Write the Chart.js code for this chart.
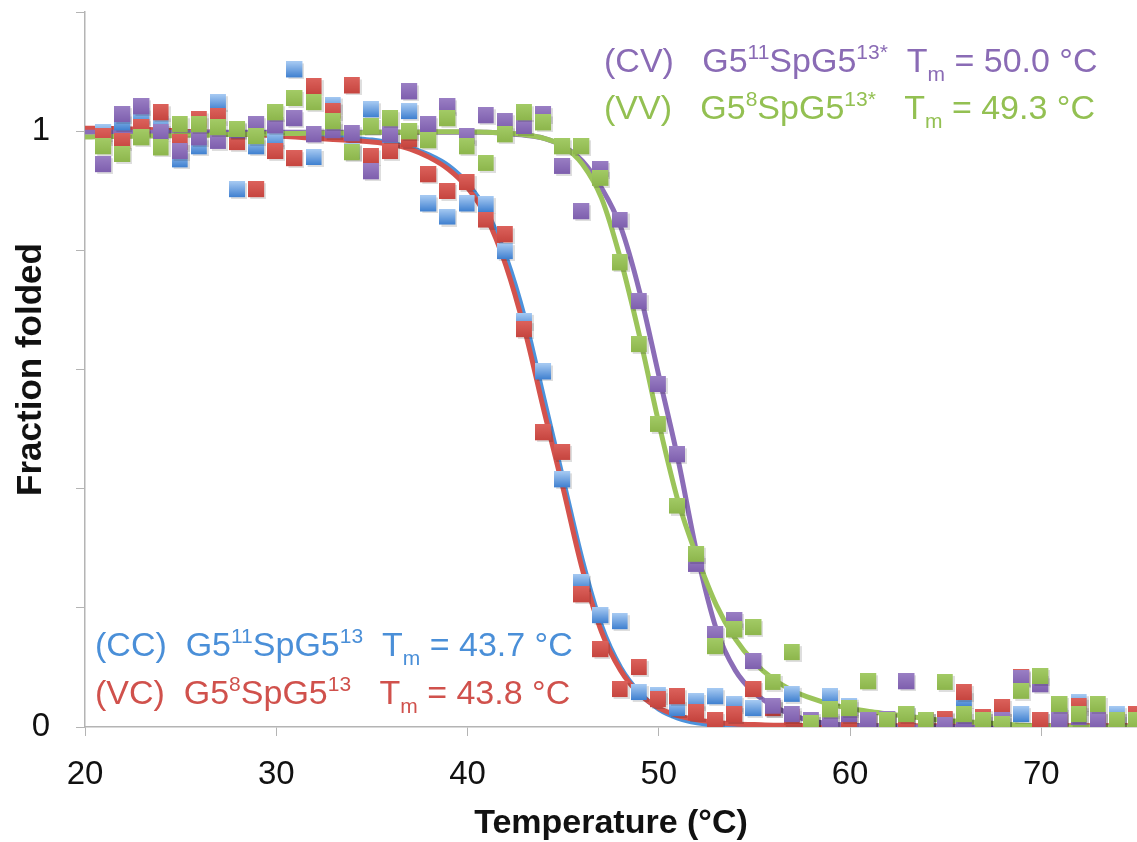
<!DOCTYPE html>
<html>
<head>
<meta charset="utf-8">
<script src="https://cdn.jsdelivr.net/npm/chart.js@4"></script>
<style>
  body { margin: 0; background: #fff; }
  #wrap { width: 1137px; height: 842px; }
</style>
</head>
<body>
<div id="wrap"><canvas id="meltChart" width="1137" height="842"></canvas></div>
<script>
// measured temperatures (°C)
const temps = [21, 22, 23, 24, 25, 26, 27, 28, 29, 30, 31, 32, 33, 34, 35, 36, 37, 38, 39, 40,
  41, 42, 43, 44, 45, 46, 47, 48, 49, 50, 51, 52, 53, 54, 55, 56, 57, 58, 59, 60,
  61, 62, 63, 64, 65, 66, 67, 68, 69, 70, 71, 72, 73, 74, 75];

// fraction folded, one value per temperature
const ccFolded = [0.997, 1.013, 1.023, 1.01, 0.951, 0.973, 1.047, 0.901, 0.973, 0.985,
  1.102, 0.955, 1.043, 0.965, 1.035, 0.985, 1.032, 0.877, 0.855, 0.877,
  0.876, 0.797, 0.68, 0.595, 0.414, 0.242, 0.186, 0.176, 0.057, 0.052,
  0.03, 0.042, 0.05, 0.037, 0.03, 0.03, 0.054, 0.0, 0.05, 0.034,
  0.01, 0.005, 0.02, 0.01, 0.01, 0.045, 0.01, 0.01, 0.02, 0.01,
  0.017, 0.04, 0.01, 0.02, 0.005];
const vcFolded = [0.99, 0.982, 1.005, 1.03, 0.98, 1.018, 1.024, 0.98, 0.901, 0.965,
  0.953, 1.074, 1.033, 1.075, 0.956, 0.965, 0.985, 0.926, 0.898, 0.913,
  0.85, 0.825, 0.666, 0.493, 0.46, 0.221, 0.129, 0.062, 0.099, 0.045,
  0.05, 0.023, 0.01, 0.02, 0.062, 0.03, 0.015, 0.005, 0.01, 0.008,
  0.01, 0.01, 0.003, 0.01, 0.012, 0.057, 0.015, 0.032, 0.082, 0.01,
  0.01, 0.034, 0.01, 0.01, 0.02];
const cvFolded = [0.943, 1.027, 1.04, 0.997, 0.965, 0.988, 0.982, 1.0, 1.01, 1.008,
  1.02, 0.993, 1.0, 0.995, 0.931, 0.993, 1.065, 1.01, 1.04, 0.99,
  1.025, 1.015, 1.007, 1.027, 0.94, 0.864, 0.935, 0.85, 0.713, 0.574,
  0.456, 0.272, 0.154, 0.178, 0.109, 0.034, 0.02, 0.01, 0.007, 0.02,
  0.01, 0.012, 0.075, 0.005, 0.002, 0.01, 0.005, 0.01, 0.08, 0.07,
  0.01, 0.015, 0.01, 0.005, 0.0];
const vvFolded = [0.973, 0.96, 0.988, 0.971, 1.01, 1.01, 1.005, 1.002, 0.99, 1.03,
  1.054, 1.047, 1.015, 0.963, 1.007, 1.02, 0.998, 0.983, 1.02, 0.973,
  0.945, 0.993, 1.03, 1.013, 0.973, 0.973, 0.92, 0.778, 0.641, 0.507,
  0.37, 0.289, 0.134, 0.162, 0.166, 0.074, 0.124, 0.005, 0.028, 0.03,
  0.075, 0.01, 0.02, 0.01, 0.074, 0.02, 0.01, 0.003, 0.059, 0.084,
  0.037, 0.02, 0.037, 0.01, 0.01];

const fitTemps = [20, 21, 22, 23, 24, 25, 26, 27, 28, 29, 30, 31, 32, 33, 34, 35, 36, 37, 38, 39,
  40, 41, 42, 43, 44, 45, 46, 47, 48, 49, 50, 51, 52, 53, 54, 55, 56, 57, 58, 59,
  60, 61, 62, 63, 64, 65, 66, 67, 68, 69, 70, 71, 72, 73, 74, 75];
const ccFit = [1.0, 1.0, 1.0, 1.0, 0.999, 0.999, 0.998, 0.998, 0.997, 0.996,
  0.995, 0.994, 0.993, 0.991, 0.988, 0.985, 0.98, 0.972, 0.96, 0.942,
  0.912, 0.865, 0.79, 0.685, 0.55, 0.415, 0.28, 0.17, 0.1, 0.057,
  0.03, 0.015, 0.007, 0.003, 0.001, 0.0, 0.0, 0.0, 0.0, 0.0,
  0.0, 0.0, 0.0, 0.0, 0.0, 0.0, 0.0, 0.0, 0.0, 0.0,
  0.0, 0.0, 0.0, 0.0, 0.0, 0.0];
const vcFit = [1.005, 1.005, 1.004, 1.003, 1.002, 1.0, 0.999, 0.998, 0.996, 0.994,
  0.992, 0.99, 0.988, 0.986, 0.984, 0.982, 0.978, 0.97, 0.956, 0.936,
  0.905, 0.855, 0.775, 0.665, 0.53, 0.4, 0.265, 0.16, 0.095, 0.055,
  0.032, 0.019, 0.012, 0.008, 0.005, 0.004, 0.003, 0.003, 0.002, 0.002,
  0.002, 0.002, 0.002, 0.002, 0.002, 0.002, 0.002, 0.002, 0.002, 0.002,
  0.002, 0.002, 0.002, 0.002, 0.002, 0.002];
const cvFit = [0.998, 0.998, 0.998, 0.998, 0.998, 0.998, 0.998, 0.998, 0.998, 0.998,
  0.998, 0.998, 0.998, 0.998, 0.998, 0.998, 0.998, 0.998, 0.998, 0.998,
  0.998, 0.998, 0.996, 0.993, 0.988, 0.975, 0.95, 0.905, 0.84, 0.73,
  0.59, 0.45, 0.29, 0.165, 0.095, 0.057, 0.035, 0.02, 0.01, 0.005,
  0.003, 0.002, 0.001, 0.0, 0.0, 0.0, 0.0, 0.0, 0.0, 0.0,
  0.0, 0.0, 0.0, 0.0, 0.0, 0.0];
const vvFit = [0.99, 0.991, 0.991, 0.992, 0.992, 0.993, 0.993, 0.994, 0.995, 0.995,
  0.996, 0.996, 0.997, 0.997, 0.997, 0.998, 0.998, 0.998, 0.999, 0.999,
  0.999, 0.998, 0.997, 0.994, 0.988, 0.975, 0.945, 0.888, 0.785, 0.655,
  0.51, 0.38, 0.285, 0.205, 0.148, 0.108, 0.08, 0.061, 0.048, 0.038,
  0.031, 0.026, 0.022, 0.018, 0.014, 0.011, 0.009, 0.007, 0.005, 0.003,
  0.002, 0.001, 0.0, 0.0, 0.0, 0.0];

const xTickValues = [20, 30, 40, 50, 60, 70];
const yTickValues = [0, 0.2, 0.4, 0.6, 0.8, 1.0, 1.2];
const yTickLabels = ["0", "", "", "", "", "1", ""];

const BLUE = "#4a8fd8", RED = "#d0514c", PURPLE = "#8a6bb5", GREEN = "#93c052";
const FONT = '"Liberation Sans", Arial, sans-serif';

// annotation text: [main text / superscript / subscript pieces]
const labelCV = [["(CV)   G5"], ["11", "sup"], ["SpG5"], ["13*", "sup"], ["  T"], ["m", "sub"], [" = 50.0 °C"]];
const labelVV = [["(VV)   G5"], ["8", "sup"], ["SpG5"], ["13*", "sup"], ["   T"], ["m", "sub"], [" = 49.3 °C"]];
const labelCC = [["(CC)  G5"], ["11", "sup"], ["SpG5"], ["13", "sup"], ["  T"], ["m", "sub"], [" = 43.7 °C"]];
const labelVC = [["(VC)  G5"], ["8", "sup"], ["SpG5"], ["13", "sup"], ["   T"], ["m", "sub"], [" = 43.8 °C"]];

function pairs(xs, ys) {
  return xs.map((x, i) => ({ x: x, y: ys[i] }));
}

function square(top, bottom) {
  const c = document.createElement("canvas");
  c.width = 18; c.height = 18;
  const g = c.getContext("2d");
  g.fillStyle = "rgba(0,0,0,0.13)";
  g.fillRect(2, 2, 16, 16);
  const grad = g.createLinearGradient(0, 0, 0, 16);
  grad.addColorStop(0, top);
  grad.addColorStop(1, bottom);
  g.fillStyle = grad;
  g.fillRect(0, 0, 16, 16);
  return c;
}

function pointSet(label, values, marker, order) {
  return {
    label: label, data: pairs(temps, values), showLine: false,
    pointStyle: marker, pointRadius: 9, order: order
  };
}

function fitSet(label, values, color, order) {
  return {
    label: label, data: pairs(fitTemps, values), showLine: true,
    borderColor: color, borderWidth: 5, pointRadius: 0,
    cubicInterpolationMode: "monotone", order: order
  };
}

function drawRich(ctx, x, y, parts, color) {
  ctx.save();
  ctx.fillStyle = color;
  ctx.textAlign = "left";
  ctx.textBaseline = "alphabetic";
  parts.forEach(p => {
    let size = 34, dy = 0;
    if (p[1] === "sup") { size = 21; dy = -13; }
    if (p[1] === "sub") { size = 21; dy = 9; }
    ctx.font = size + "px " + FONT;
    ctx.fillText(p[0], x, y + dy);
    x += ctx.measureText(p[0]).width;
  });
  ctx.restore();
}

const labelsPlugin = {
  id: "tmLabels",
  afterDatasetsDraw(chart) {
    const ctx = chart.ctx;
    const a = chart.chartArea;
    drawRich(ctx, a.left + 519, a.top + 60, labelCV, PURPLE);
    drawRich(ctx, a.left + 519, a.top + 107, labelVV, GREEN);
    drawRich(ctx, a.left + 10, a.bottom - 71, labelCC, BLUE);
    drawRich(ctx, a.left + 10, a.bottom - 23, labelVC, RED);
  }
};

new Chart(document.getElementById("meltChart"), {
  type: "scatter",
  data: {
    datasets: [
      pointSet("VV", vvFolded, square("#a3cb66", "#8db64c"), 1),
      pointSet("CV", cvFolded, square("#9a7fc4", "#7e5fae"), 2),
      pointSet("VC", vcFolded, square("#dc625c", "#c6453f"), 3),
      pointSet("CC", ccFolded, square("#a8cbf3", "#3f80d0"), 4),
      fitSet("VV fit", vvFit, "#9bc45a", 10),
      fitSet("CV fit", cvFit, "#8b6db7", 11),
      fitSet("CC fit", ccFit, "#4c92db", 13),
      fitSet("VC fit", vcFit, "#d4524c", 12)
    ]
  },
  options: {
    responsive: false,
    animation: false,
    layout: { autoPadding: false, padding: { top: 12, right: 0, left: 0, bottom: 0 } },
    plugins: {
      legend: { display: false },
      tooltip: { enabled: false }
    },
    scales: {
      x: {
        type: "linear",
        min: 20,
        max: 75,
        afterBuildTicks: s => { s.ticks = xTickValues.map(v => ({ value: v })); },
        afterFit: s => { s.height = 115; s.paddingLeft = 0; s.paddingRight = 0; },
        grid: { drawOnChartArea: false, color: "#b4b4b4", tickLength: 9 },
        border: { color: "#b4b4b4", width: 1.5 },
        ticks: { color: "#111", font: { family: FONT, size: 33 }, padding: 19, maxRotation: 0 },
        title: {
          display: true, text: "Temperature (°C)", color: "#111",
          font: { family: FONT, size: 34, weight: "bold" }, padding: { top: 10, bottom: -2 }
        }
      },
      y: {
        min: 0,
        max: 1.2,
        afterBuildTicks: s => { s.ticks = yTickValues.map(v => ({ value: v })); },
        afterFit: s => { s.width = 85; s.paddingTop = 0; s.paddingBottom = 0; },
        grid: { drawOnChartArea: false, color: "#b4b4b4", tickLength: 9 },
        border: { color: "#b4b4b4", width: 1.5 },
        ticks: {
          color: "#111", font: { family: FONT, size: 33 }, padding: 26,
          callback: (v, i) => yTickLabels[i]
        },
        title: {
          display: true, text: "Fraction folded", color: "#111",
          font: { family: FONT, size: 35, weight: "bold" }, padding: { top: 10 }
        }
      }
    }
  },
  plugins: [labelsPlugin]
});
</script>
</body>
</html>
